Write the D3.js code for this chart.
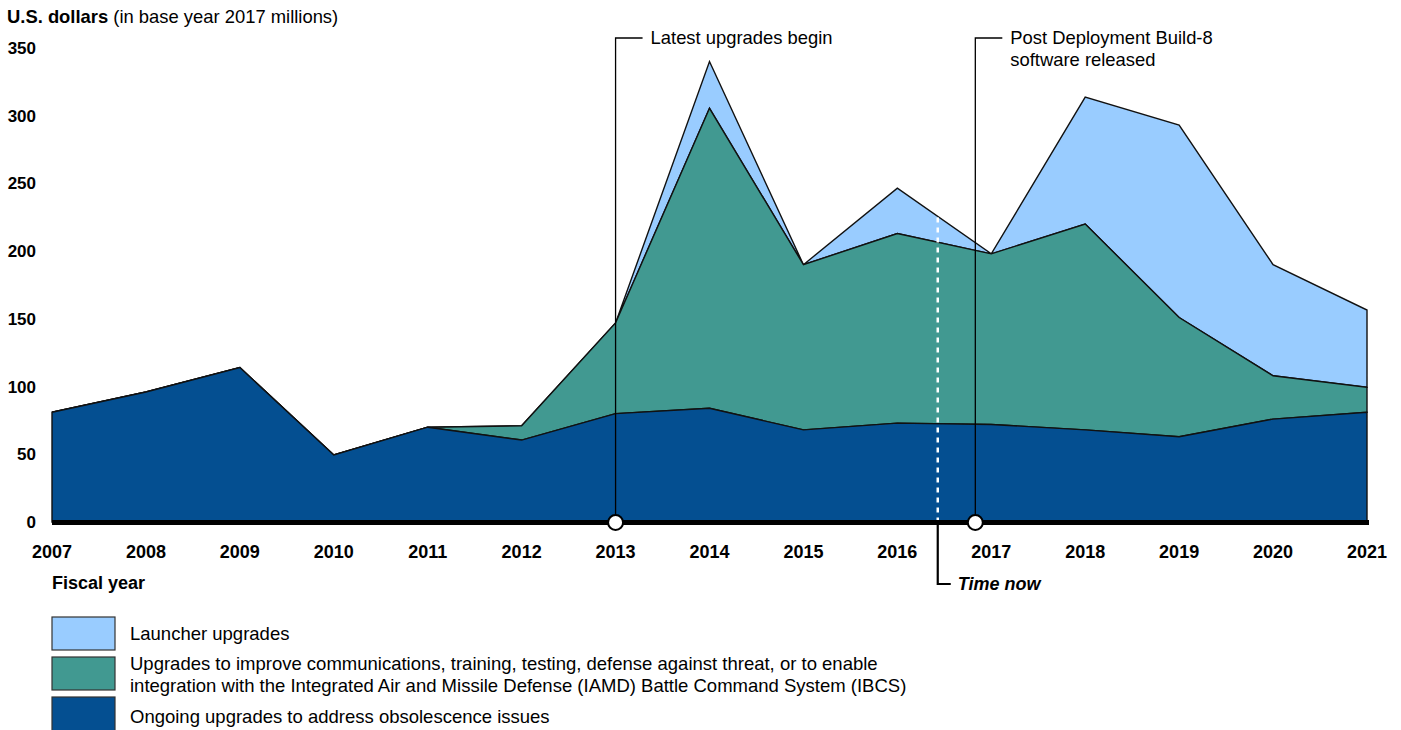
<!DOCTYPE html>
<html>
<head>
<meta charset="utf-8">
<script src="https://cdn.jsdelivr.net/npm/d3@7"></script>
<style>
  body { margin: 0; background: #fff; }
  text { font-family: "Liberation Sans", Arial, sans-serif; fill: #000; }
</style>
</head>
<body>
<script>
// values, base year 2017 millions
var years = [2007, 2008, 2009, 2010, 2011, 2012, 2013, 2014, 2015, 2016, 2017, 2018, 2019, 2020, 2021];
var obsolescence = [81, 96, 114, 49.5, 70, 60.5, 80, 84, 68, 73, 72, 68, 63, 76, 81];
var comms = [0, 0, 0, 0, 0, 10.5, 67, 221.5, 122, 140, 126, 152, 88, 32, 18.5];
var launcher = [0, 0, 0, 0, 0, 0, 0, 34.5, 0, 33.5, 0, 93.7, 142, 82, 57];
var yTicks = [0, 50, 100, 150, 200, 250, 300, 350];

var seriesKeys = ["obsolescence", "comms", "launcher"];
var seriesColors = {obsolescence: "#044f91", comms: "#419991", launcher: "#99ccff"};
var legendLabels = [
  {key: "launcher", lines: ["Launcher upgrades"]},
  {key: "comms", lines: ["Upgrades to improve communications, training, testing, defense against threat, or to enable",
                         "integration with the Integrated Air and Missile Defense (IAMD) Battle Command System (IBCS)"]},
  {key: "obsolescence", lines: ["Ongoing upgrades to address obsolescence issues"]}
];
var events = [
  {year: 2013, lines: ["Latest upgrades begin"]},
  {year: 2016.83, lines: ["Post Deployment Build-8", "software released"]}
];
var timeNow = 2016.43;

var rows = years.map(function(y, i) {
  return {year: y, obsolescence: obsolescence[i], comms: comms[i], launcher: launcher[i]};
});

var svg = d3.select("body").append("svg")
  .attr("width", 1401)
  .attr("height", 730);

var x = d3.scaleLinear().domain([2007, 2021]).range([52, 1367]);
var y = d3.scaleLinear().domain([0, 350]).range([522, 48]);

var stacked = d3.stack().keys(seriesKeys)(rows);

var area = d3.area()
  .x(function(d) { return x(d.data.year); })
  .y0(function(d) { return y(d[0]); })
  .y1(function(d) { return y(d[1]); });

// draw top layer first so lower layers' outlines sit on top
svg.selectAll("path.layer")
  .data(stacked.slice().reverse())
  .enter().append("path")
  .attr("class", "layer")
  .attr("d", area)
  .attr("fill", function(d) { return seriesColors[d.key]; })
  .attr("stroke", "#111")
  .attr("stroke-width", 1.4)
  .attr("stroke-linejoin", "miter");

// white dashed "time now" marker
var topAtNow = d3.scaleLinear().domain(years).range(years.map(function(yr, i) {
  return obsolescence[i] + comms[i] + launcher[i];
}))(timeNow);
svg.append("line")
  .attr("x1", x(timeNow)).attr("x2", x(timeNow))
  .attr("y1", y(topAtNow) + 1).attr("y2", y(0))
  .attr("stroke", "#fff")
  .attr("stroke-width", 2.5)
  .attr("stroke-dasharray", "5,5");

// y axis labels
svg.selectAll("text.ytick")
  .data(yTicks)
  .enter().append("text")
  .attr("class", "ytick")
  .attr("x", 36)
  .attr("y", function(d) { return y(d); })
  .attr("dy", "0.35em")
  .attr("text-anchor", "end")
  .style("font-size", "17px")
  .style("font-weight", "bold")
  .text(function(d) { return d; });

// x axis labels
svg.selectAll("text.xtick")
  .data(years)
  .enter().append("text")
  .attr("class", "xtick")
  .attr("x", function(d) { return x(d); })
  .attr("y", 558)
  .attr("text-anchor", "middle")
  .style("font-size", "18px")
  .style("font-weight", "bold")
  .text(function(d) { return d; });

// baseline
svg.append("line")
  .attr("x1", x(2007)).attr("x2", x(2021) + 2)
  .attr("y1", y(0) + 0.5).attr("y2", y(0) + 0.5)
  .attr("stroke", "#000")
  .attr("stroke-width", 5);

// event annotations
events.forEach(function(e) {
  var ex = x(e.year);
  svg.append("path")
    .attr("d", "M" + (ex + 27) + ",38H" + ex + "V" + y(0))
    .attr("fill", "none")
    .attr("stroke", "#000")
    .attr("stroke-width", 1.3);
  svg.append("circle")
    .attr("cx", ex).attr("cy", y(0) + 0.5)
    .attr("r", 7.5)
    .attr("fill", "#fff")
    .attr("stroke", "#000")
    .attr("stroke-width", 2);
  e.lines.forEach(function(line, i) {
    svg.append("text")
      .attr("x", ex + 35)
      .attr("y", 38 + i * 22)
      .attr("dy", "0.35em")
      .style("font-size", "18.4px")
      .text(line);
  });
});

// time now label
svg.append("path")
  .attr("d", "M" + x(timeNow) + "," + (y(0) + 2) + "V584H" + (x(timeNow) + 13))
  .attr("fill", "none")
  .attr("stroke", "#000")
  .attr("stroke-width", 2.2);
svg.append("text")
  .attr("x", x(timeNow) + 20)
  .attr("y", 584)
  .attr("dy", "0.35em")
  .style("font-size", "18px")
  .style("font-weight", "bold")
  .style("font-style", "italic")
  .text("Time now");

// titles
var title = svg.append("text")
  .attr("x", 7)
  .attr("y", 23)
  .style("font-size", "18.4px");
title.append("tspan").style("font-weight", "bold").text("U.S. dollars");
title.append("tspan").text(" (in base year 2017 millions)");

svg.append("text")
  .attr("x", 52)
  .attr("y", 589)
  .style("font-size", "18px")
  .style("font-weight", "bold")
  .text("Fiscal year");

// legend
var legendBoxes = [{y: 617, h: 33}, {y: 657, h: 33}, {y: 697, h: 36}];
var legendText = [[640], [670, 692], [723]];
legendLabels.forEach(function(l, i) {
  svg.append("rect")
    .attr("x", 52).attr("y", legendBoxes[i].y)
    .attr("width", 63).attr("height", legendBoxes[i].h)
    .attr("fill", seriesColors[l.key])
    .attr("stroke", "#333")
    .attr("stroke-width", 1.2);
  l.lines.forEach(function(line, j) {
    svg.append("text")
      .attr("x", 130)
      .attr("y", legendText[i][j])
      .style("font-size", "18.5px")
      .text(line);
  });
});
</script>
</body>
</html>
